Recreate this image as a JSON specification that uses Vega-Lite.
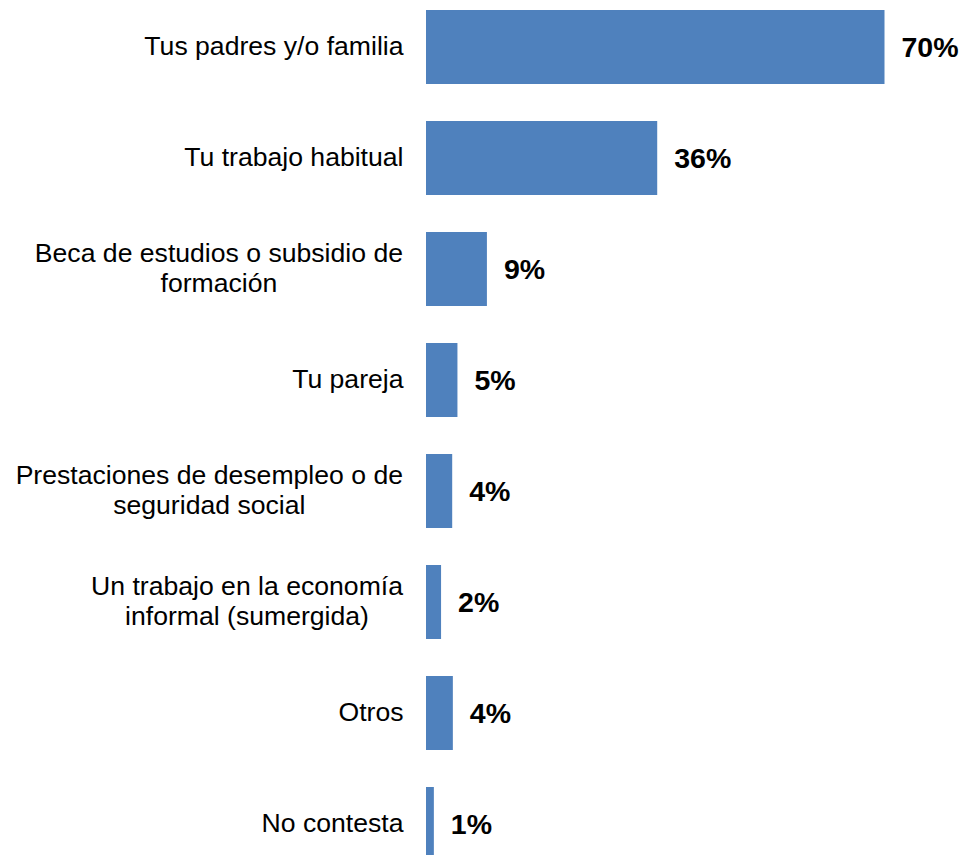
{
  "$schema": "https://vega.github.io/schema/vega-lite/v6.json",
  "width": 524,
  "height": 871,
  "autosize": {"type": "none"},
  "padding": {"left": 426, "top": 0, "right": 16, "bottom": 0},
  "background": "white",
  "config": {"view": {"stroke": null}},
  "data": {
    "values": [
      {"categoria": "Tus padres y/o familia", "valor": 70.0, "etiqueta": "70%"},
      {"categoria": "Tu trabajo habitual", "valor": 35.3, "etiqueta": "36%"},
      {"categoria": "Beca de estudios o subsidio de formación", "valor": 9.3, "etiqueta": "9%"},
      {"categoria": "Tu pareja", "valor": 4.8, "etiqueta": "5%"},
      {"categoria": "Prestaciones de desempleo o de seguridad social", "valor": 4.0, "etiqueta": "4%"},
      {"categoria": "Un trabajo en la economía informal (sumergida)", "valor": 2.3, "etiqueta": "2%"},
      {"categoria": "Otros", "valor": 4.1, "etiqueta": "4%"},
      {"categoria": "No contesta", "valor": 1.2, "etiqueta": "1%"}
    ]
  },
  "encoding": {
    "y": {
      "field": "categoria",
      "type": "nominal",
      "sort": null,
      "scale": {"paddingInner": 0.333, "paddingOuter": 0.09},
      "axis": {
        "title": null,
        "domain": false,
        "ticks": false,
        "labelPadding": 23,
        "labelFont": "Liberation Sans",
        "labelFontSize": 26.6,
        "labelColor": "#000000",
        "labelLimit": 0,
        "labelExpr": "length(datum.label) > 30 ? '' : datum.label"
      }
    },
    "x": {
      "field": "valor",
      "type": "quantitative",
      "scale": {"domain": [0, 80], "nice": false},
      "axis": null
    }
  },
  "layer": [
    {"mark": {"type": "bar", "color": "#4F81BD"}},
    {
      "mark": {
        "type": "text",
        "align": "left",
        "baseline": "middle",
        "dx": 17,
        "dy": 1,
        "font": "Liberation Sans",
        "fontSize": 28.5,
        "fontWeight": "bold",
        "color": "#000000"
      },
      "encoding": {"text": {"field": "etiqueta"}}
    },
    {
      "transform": [{"filter": "datum.categoria == 'Beca de estudios o subsidio de formación'"}],
      "mark": {
        "type": "text",
        "align": "center",
        "baseline": "middle",
        "dx": -207.1,
        "dy": -15,
        "lineHeight": 30,
        "font": "Liberation Sans",
        "fontSize": 26.6,
        "color": "#000000",
        "text": ["Beca de estudios o subsidio de", "formación"]
      },
      "encoding": {"x": {"datum": 0, "type": "quantitative"}}
    },
    {
      "transform": [{"filter": "datum.categoria == 'Prestaciones de desempleo o de seguridad social'"}],
      "mark": {
        "type": "text",
        "align": "center",
        "baseline": "middle",
        "dx": -216.7,
        "dy": -15,
        "lineHeight": 30,
        "font": "Liberation Sans",
        "fontSize": 26.6,
        "color": "#000000",
        "text": ["Prestaciones de desempleo o de", "seguridad social"]
      },
      "encoding": {"x": {"datum": 0, "type": "quantitative"}}
    },
    {
      "transform": [{"filter": "datum.categoria == 'Un trabajo en la economía informal (sumergida)'"}],
      "mark": {
        "type": "text",
        "align": "center",
        "baseline": "middle",
        "dx": -179,
        "dy": -15,
        "lineHeight": 30,
        "font": "Liberation Sans",
        "fontSize": 26.6,
        "color": "#000000",
        "text": ["Un trabajo en la economía", "informal (sumergida)"]
      },
      "encoding": {"x": {"datum": 0, "type": "quantitative"}}
    }
  ]
}
